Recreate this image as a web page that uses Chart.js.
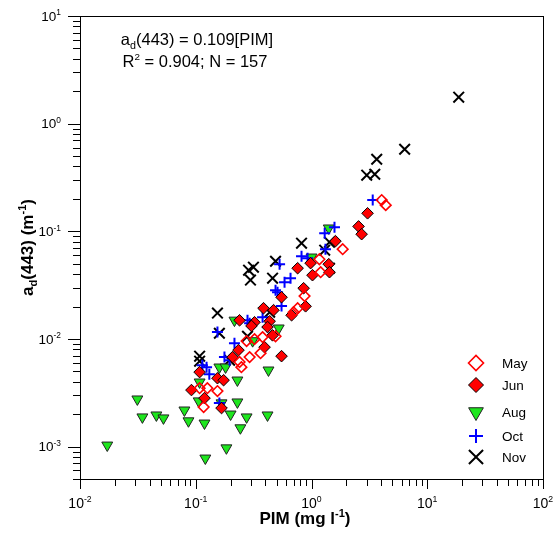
<!DOCTYPE html>
<html>
<head>
<meta charset="utf-8">
<script src="https://cdn.jsdelivr.net/npm/chart.js@4.4.1/dist/chart.umd.min.js"></script>
<style>
  html, body { margin: 0; padding: 0; background: #fff; }
  #wrap { width: 556px; height: 539px; }
</style>
</head>
<body>
<div id="wrap"><canvas id="chart" width="556" height="539"></canvas></div>
<script>
// values: PIM (mg l-1) and ad(443) (m-1), one pair per point
const mayPIM = [4.04, 4.38, 1.86, 1.17, 1.20, 0.871, 0.759, 0.700, 0.489, 0.378, 0.322, 0.275, 0.363, 0.292, 0.248, 0.126, 0.154, 0.108, 0.117, 0.239];
const mayAd  = [0.195, 0.175, 0.0682, 0.055, 0.0417, 0.025, 0.0193, 0.0177, 0.0106, 0.0104, 0.00995, 0.00955, 0.00738, 0.00678, 0.00547, 0.00349, 0.00328, 0.00349, 0.00233, 0.0061];

const junPIM = [3.05, 2.55, 2.71, 1.61, 1.41, 1.43, 0.982, 0.759, 1.02, 0.855, 0.551, 0.889, 0.673, 0.385, 0.470, 0.435, 0.239, 0.322, 0.303, 0.417, 0.461, 0.551, 0.393, 0.234, 0.208, 0.108, 0.154, 0.174, 0.0918, 0.119, 0.167];
const junAd  = [0.147, 0.111, 0.094, 0.081, 0.0495, 0.0417, 0.0506, 0.0454, 0.0391, 0.0296, 0.0244, 0.0201, 0.0166, 0.0193, 0.0185, 0.0146, 0.0149, 0.0143, 0.0132, 0.0129, 0.0108, 0.00692, 0.00839, 0.00787, 0.00678, 0.00492, 0.00432, 0.00414, 0.00335, 0.00282, 0.00228];

const augPIM = [1.41, 1.0, 0.521, 0.216, 0.425, 0.160, 0.181, 0.31, 0.229, 0.108, 0.0313, 0.0346, 0.0457, 0.0526, 0.0798, 0.0865, 0.119, 0.0172, 0.184, 0.121, 0.106, 0.167, 0.229, 0.200, 0.275, 0.243, 0.417];
const augAd  = [0.107, 0.0575, 0.0126, 0.0149, 0.00513, 0.00547, 0.00547, 0.0096, 0.00414, 0.00397, 0.00276, 0.00188, 0.00196, 0.00184, 0.00218, 0.00173, 0.00165, 0.00103, 0.00097, 0.00078, 0.00265, 0.00254, 0.00259, 0.0020, 0.00188, 0.00149, 0.00196];

const octPIM = [3.38, 1.58, 1.30, 1.32, 0.82, 0.530, 0.659, 0.585, 0.489, 0.509, 0.551, 0.280, 0.417, 0.154, 0.216, 0.177, 0.196, 0.124, 0.114, 0.131, 0.160, 0.292, 0.925, 0.378];
const octAd  = [0.195, 0.109, 0.096, 0.0682, 0.0587, 0.0495, 0.0367, 0.0337, 0.0284, 0.0272, 0.0202, 0.0149, 0.0129, 0.0116, 0.00914, 0.00678, 0.00635, 0.00547, 0.00571, 0.00471, 0.00254, 0.0140, 0.0562, 0.0159];

const novPIM = [18.7, 6.38, 3.66, 3.0, 3.52, 0.82, 1.43, 0.489, 0.286, 0.315, 0.297, 0.461, 0.154, 0.160, 0.108, 0.108, 0.196, 0.280, 1.43, 0.435, 1.30];
const novAd  = [1.76, 0.578, 0.467, 0.332, 0.339, 0.0775, 0.0793, 0.0527, 0.0435, 0.0464, 0.0352, 0.0367, 0.0174, 0.0113, 0.00692, 0.00622, 0.00635, 0.0106, 0.0454, 0.0177, 0.0668];

// axis ranges and tick decades
const xRange = [0.01, 100];
const yRange = [0.0005, 10];
const xDecades = [-2, -1, 0, 1, 2];
const yDecades = [-3, -2, -1, 0, 1];

const FONT = '"Liberation Sans", Arial, sans-serif';

function pts(xs, ys) {
    return xs.map((v, i) => ({ x: v, y: ys[i] }));
}

// first dataset is drawn on top
const datasets = [
    { label: 'May', data: pts(mayPIM, mayAd), pointStyle: 'rectRot', pointRadius: 5.3,
      backgroundColor: 'rgba(255,255,255,0)', borderColor: '#ff0000', borderWidth: 1.6 },
    { label: 'Jun', data: pts(junPIM, junAd), pointStyle: 'rectRot', pointRadius: 5.8,
      backgroundColor: '#ff0000', borderColor: '#000000', borderWidth: 1 },
    { label: 'Oct', data: pts(octPIM, octAd), pointStyle: 'cross', pointRadius: 5.5,
      backgroundColor: '#0000ff', borderColor: '#0000ff', borderWidth: 2 },
    { label: 'Aug', data: pts(augPIM, augAd), pointStyle: 'triangle', pointRotation: 180, pointRadius: 6.3,
      backgroundColor: '#1ee61e', borderColor: '#222222', borderWidth: 1 },
    { label: 'Nov', data: pts(novPIM, novAd), pointStyle: 'crossRot', pointRadius: 7.5,
      backgroundColor: '#000000', borderColor: '#000000', borderWidth: 2 }
];

// legend order as in the figure, with bigger symbols
const legendOrder = ['May', 'Jun', 'Aug', 'Oct', 'Nov'];
const legendRadius = { May: 7.5, Jun: 7.5, Aug: 8.5, Oct: 7, Nov: 10 };

// text with sub/superscripts
function richWidth(ctx, parts, fs, weight, sc) {
    let w = 0;
    parts.forEach(p => {
        const size = p.s ? fs * sc : fs;
        ctx.font = weight + ' ' + size + 'px ' + FONT;
        w += ctx.measureText(p.t).width;
    });
    return w;
}

function drawRich(ctx, parts, x, y, fs, weight, align, sc) {
    sc = sc || 0.65;
    const w = richWidth(ctx, parts, fs, weight, sc);
    let cx = x;
    if (align === 'center') cx = x - w / 2;
    if (align === 'right') cx = x - w;
    ctx.textAlign = 'left';
    ctx.textBaseline = 'alphabetic';
    parts.forEach(p => {
        const size = p.s ? fs * sc : fs;
        ctx.font = weight + ' ' + size + 'px ' + FONT;
        let dy = 0;
        if (p.s === 'sub') dy = fs * 0.22;
        if (p.s === 'sup') dy = -fs * 0.4;
        ctx.fillText(p.t, cx, y + dy);
        cx += ctx.measureText(p.t).width;
    });
}

const decor = {
    id: 'decor',
    afterDraw(chart) {
        const { ctx, chartArea: a } = chart;
        const xs = chart.scales.x, ys = chart.scales.y;
        ctx.save();
        ctx.fillStyle = '#000';
        ctx.strokeStyle = '#000';
        ctx.lineWidth = 1;

        // frame
        ctx.strokeRect(Math.round(a.left) + 0.5, Math.round(a.top) + 0.5,
            Math.round(a.right - a.left), Math.round(a.bottom - a.top));

        // minor + major ticks
        ctx.beginPath();
        for (let e = -4; e <= 2; e++) {
            for (let m = 1; m <= 9; m++) {
                const v = m * Math.pow(10, e);
                if (v >= xRange[0] * 0.999 && v <= xRange[1] * 1.001) {
                    const px = Math.round(xs.getPixelForValue(v)) + 0.5;
                    ctx.moveTo(px, a.bottom);
                    ctx.lineTo(px, a.bottom + (m === 1 ? 10 : 7));
                }
                if (v >= yRange[0] * 0.999 && v <= yRange[1] * 1.001) {
                    const py = Math.round(ys.getPixelForValue(v)) + 0.5;
                    ctx.moveTo(a.left, py);
                    ctx.lineTo(a.left - (m === 1 ? 12 : 7), py);
                }
            }
        }
        ctx.stroke();

        // tick labels
        xDecades.forEach(e => {
            const px = xs.getPixelForValue(Math.pow(10, e));
            drawRich(ctx, [{ t: '10' }, { t: String(e), s: 'sup' }], px, a.bottom + 29, 14, 'normal', 'center', 0.62);
        });
        yDecades.forEach(e => {
            const py = ys.getPixelForValue(Math.pow(10, e));
            drawRich(ctx, [{ t: '10' }, { t: String(e), s: 'sup' }], a.left - 19, py + 4.8, 13.5, 'normal', 'right', 0.62);
        });

        // axis titles
        drawRich(ctx, [{ t: 'PIM (mg l' }, { t: '-1', s: 'sup' }, { t: ')' }], 305, 524, 17, 'bold', 'center');
        ctx.save();
        ctx.translate(33, (a.top + a.bottom) / 2);
        ctx.rotate(-Math.PI / 2);
        drawRich(ctx, [{ t: 'a' }, { t: 'd', s: 'sub' }, { t: '(443) (m' }, { t: '-1', s: 'sup' }, { t: ')' }], 0, 0, 17, 'bold', 'center');
        ctx.restore();

        // regression note
        drawRich(ctx, [{ t: 'a' }, { t: 'd', s: 'sub' }, { t: '(443) = 0.109[PIM]' }], a.left + 117, a.top + 29, 16.5, 'normal', 'center');
        drawRich(ctx, [{ t: 'R' }, { t: '2', s: 'sup' }, { t: ' = 0.904; N = 157' }], a.left + 115, a.top + 50.5, 16.5, 'normal', 'center', 0.6);

        // legend inside the plot, lower right
        const legY = [a.bottom - 116, a.bottom - 94, a.bottom - 67, a.bottom - 43, a.bottom - 22];
        const drawPoint = Chart.helpers && Chart.helpers.drawPoint;
        legendOrder.forEach((name, i) => {
            const ds = datasets.find(d => d.label === name);
            const sx = a.right - 67, sy = legY[i];
            if (drawPoint) {
                ctx.save();
                ctx.fillStyle = ds.backgroundColor;
                ctx.strokeStyle = ds.borderColor;
                ctx.lineWidth = ds.borderWidth;
                drawPoint(ctx, { pointStyle: ds.pointStyle, rotation: ds.pointRotation || 0,
                    radius: legendRadius[name], borderWidth: ds.borderWidth }, sx, sy);
                ctx.restore();
            }
            ctx.fillStyle = '#000';
            ctx.font = '13.5px ' + FONT;
            ctx.textAlign = 'left';
            ctx.textBaseline = 'middle';
            ctx.fillText(name, a.right - 41, sy + 1);
        });

        ctx.restore();
    }
};

new Chart(document.getElementById('chart'), {
    type: 'scatter',
    data: { datasets: datasets },
    options: {
        responsive: false,
        animation: false,
        layout: { padding: { left: 0, top: 16, right: 13, bottom: 0 } },
        plugins: { legend: { display: false }, tooltip: { enabled: false } },
        scales: {
            x: {
                type: 'logarithmic', min: xRange[0], max: xRange[1],
                grid: { display: false }, border: { display: false },
                ticks: { display: false },
                afterFit: s => { s.height = 60; }
            },
            y: {
                type: 'logarithmic', min: yRange[0], max: yRange[1],
                grid: { display: false }, border: { display: false },
                ticks: { display: false },
                afterFit: s => { s.width = 80; }
            }
        }
    },
    plugins: [decor]
});
</script>
</body>
</html>
